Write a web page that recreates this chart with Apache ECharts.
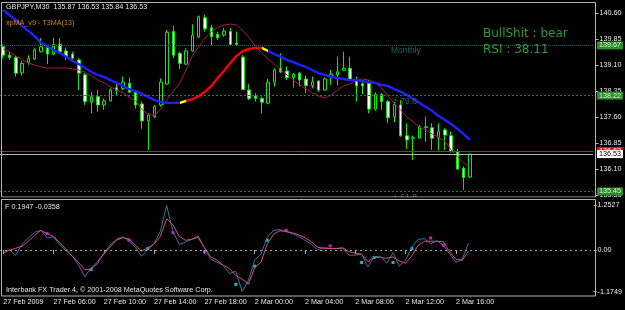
<!DOCTYPE html>
<html><head><meta charset="utf-8">
<script src="https://cdn.jsdelivr.net/npm/echarts@6/dist/echarts.min.js"></script>
<style>html,body{margin:0;padding:0;background:#000;}#c{width:625px;height:310px;}</style>
</head><body><div id="c"></div>
<script>
// ---- data ----
const timeLabels = ['27 Feb 2009','27 Feb 06:00','27 Feb 10:00','27 Feb 14:00','27 Feb 18:00','2 Mar 00:00','2 Mar 04:00','2 Mar 08:00','2 Mar 12:00','2 Mar 16:00'];
const opens  = [139.63,139.39,139.32,138.88,139.18,139.28,139.49,139.61,139.42,139.70,
                139.51,139.42,139.25,138.82,138.03,138.19,137.95,138.07,138.45,138.43,
                138.58,138.32,137.98,137.49,137.61,137.95,138.56,140.07,139.44,139.13,
                139.51,139.92,140.47,140.18,139.99,139.97,140.07,139.74,139.33,138.38,
                138.21,138.14,138.00,138.61,139.01,138.93,138.74,138.87,138.70,138.51,
                138.64,138.38,138.77,138.82,138.95,139.01,138.64,138.56,138.58,137.83,
                138.26,138.05,137.61,137.95,137.06,136.99,136.99,137.30,137.29,137.00,
                137.23,137.06,136.60,136.12,135.87];
const highs  = [139.70,139.49,139.37,139.22,139.39,139.59,139.88,139.68,139.89,139.88,
                139.61,139.49,139.30,138.87,138.33,138.38,138.14,138.43,138.61,138.77,
                138.74,138.38,138.05,137.71,137.95,138.72,140.12,140.24,139.49,139.59,
                140.28,140.53,140.55,140.26,140.07,140.17,140.17,140.07,139.39,138.55,
                138.29,138.19,138.70,139.01,139.44,139.06,138.87,138.91,138.80,138.77,
                138.67,138.74,138.96,139.35,139.49,139.35,138.77,138.61,138.67,138.32,
                138.29,138.09,138.03,138.09,137.42,137.06,137.37,137.61,137.42,137.42,
                137.28,137.18,136.68,136.17,136.53];
const lows   = [139.29,139.25,138.77,138.80,139.11,139.25,139.47,139.13,139.39,139.44,
                139.25,139.22,138.38,137.95,137.71,137.76,137.81,138.05,138.24,138.38,
                138.29,137.85,137.26,136.65,137.57,137.90,138.53,139.30,138.99,139.11,
                139.49,139.88,140.07,139.68,139.83,139.92,139.68,139.66,138.38,138.09,
                138.05,137.71,137.97,138.48,138.87,138.67,138.45,138.48,138.29,138.43,
                138.33,138.36,138.53,138.51,138.95,138.64,138.05,138.26,137.71,137.78,
                137.81,137.42,137.45,137.03,136.68,136.36,136.97,136.89,136.65,136.63,
                136.65,136.58,136.07,135.49,135.84];
const closes = [139.39,139.32,138.87,139.15,139.30,139.54,139.63,139.42,139.70,139.49,
                139.35,139.30,138.87,138.05,138.19,137.95,138.07,138.38,138.36,138.61,
                138.32,137.95,137.49,137.66,137.90,138.61,140.05,139.39,139.15,139.51,
                139.97,140.50,140.15,139.92,139.89,140.09,139.70,139.70,138.40,138.14,
                138.14,138.03,138.61,138.96,138.91,138.74,138.84,138.67,138.51,138.62,
                138.38,138.70,138.84,138.91,139.01,138.67,138.50,138.50,137.83,138.26,
                138.05,137.58,137.97,137.06,136.94,137.00,137.32,137.32,136.99,137.19,
                137.08,136.60,136.10,135.85,136.53];
const t3ma = [140.70,140.55,140.41,140.23,140.09,139.94,139.74,139.65,139.54,139.45,
              139.34,139.22,139.13,139.02,138.90,138.82,138.76,138.67,138.59,138.50,
              138.41,138.35,138.27,138.18,138.09,138.04,138.01,138.01,138.01,138.07,
              138.12,138.21,138.33,138.50,138.73,138.93,139.16,139.37,139.51,139.57,
              139.60,139.60,139.51,139.42,139.34,139.25,139.19,139.11,139.05,138.96,
              138.87,138.82,138.76,138.73,138.70,138.67,138.67,138.64,138.61,138.59,
              138.53,138.50,138.41,138.33,138.24,138.12,138.01,137.89,137.78,137.63,
              137.52,137.40,137.26,137.11,136.94];
const maLine = [139.57,139.48,139.37,139.25,139.16,139.11,139.05,139.02,139.02,139.02,
                139.02,138.99,138.96,138.90,138.79,138.67,138.59,138.47,138.38,138.30,
                138.18,138.07,137.82,137.67,137.65,137.84,138.12,138.35,138.59,138.96,
                139.37,139.63,139.89,140.06,140.20,140.26,140.29,140.26,140.09,139.89,
                139.65,139.45,139.28,139.13,138.96,138.82,138.67,138.53,138.41,138.30,
                138.21,138.15,138.24,138.38,138.50,138.56,138.67,138.70,138.67,138.59,
                138.44,138.21,137.99,137.81,137.60,137.46,137.31,137.23,137.11,137.02,
                136.91,136.65,136.45,136.27,136.16];
const fisherMain = [-0.036,0.006,-0.148,0.160,0.328,0.496,0.552,0.336,0.370,0.146,
                    -0.022,-0.176,-0.429,-0.751,-0.493,-0.401,-0.092,0.132,0.300,0.364,
                    0.258,0.076,-0.176,0.006,0.174,0.524,1.2527,0.524,0.160,0.216,
                    0.300,0.398,0.062,-0.261,-0.345,-0.429,-0.667,-0.597,-1.1749,-0.863,
                    -0.289,-0.120,0.356,0.552,0.571,0.510,0.459,0.384,0.272,0.160,
                    0.006,0.062,0.039,0.039,0.048,-0.148,-0.148,-0.120,-0.476,-0.190,
                    -0.176,-0.373,-0.078,-0.457,-0.289,0.076,0.300,0.314,0.174,0.258,
                    0.132,-0.106,-0.353,-0.261,0.1947];
const fisherSignal = [-0.092,-0.008,0.048,0.104,0.244,0.412,0.552,0.454,0.384,0.202,
                      0.020,-0.176,-0.359,-0.555,-0.541,-0.331,-0.120,0.084,0.272,0.342,
                      0.319,0.132,-0.036,0.062,0.160,0.384,0.874,0.706,0.384,0.272,
                      0.300,0.356,0.062,-0.190,-0.289,-0.429,-0.527,-0.723,-0.821,-0.961,
                      -0.499,-0.345,0.160,0.440,0.538,0.524,0.482,0.426,0.342,0.230,
                      0.076,0.048,0.039,0.039,0.062,-0.050,-0.092,-0.120,-0.331,-0.204,
                      -0.218,-0.232,-0.196,-0.317,-0.373,-0.162,0.132,0.244,0.244,0.244,
                      0.230,-0.056,-0.261,-0.289,-0.0358];
const magentaDots = [[7,0.459],[20,0.272],[27,0.487],[32,-0.056],[45,0.552],[52,0.112],[68,0.336],[70,0.132]];
const cyanDots = [[14,-0.549],[23,0.039],[37,-0.969],[40,-0.457],[42,0.272],[57,-0.353],[59,-0.213],[62,-0.353],[65,0.039]];
const priceTicks = [140.60,139.85,139.10,138.35,137.60,136.85,136.10,135.35];
const subTicks = [1.2527,0,-1.1749];
const monthlyLevel = 139.67, fibHigh = 138.22, fibLow = 135.45, askPrice = 136.62, bidPrice = 136.53;
const slotCount = 94;      // visible bar slots in the window
const labelStep = 8;       // bars between time labels

// ---- build ----
const slots = Array.from({length: slotCount}, (_, i) => 'b' + i);
const candles = opens.map((o, i) => [o, closes[i], lows[i], highs[i]]);
const labelAt = (i) => i % labelStep === 0 && (i / labelStep) < timeLabels.length;
const FF = '"Liberation Sans", Arial, sans-serif';
const FS = 7.2;
const txt = (x, y, text, fill, font, extra) => Object.assign({type: 'text', x: x, y: y, z: 100,
  style: {text: text, fill: fill, font: font, align: 'left', verticalAlign: 'middle'}}, extra || {});
const boxLabel = (text, bg, fg) => ({show: true, position: 'end', formatter: text, distance: 4,
  color: fg, backgroundColor: bg, padding: [1, 2, 0, 2], fontSize: FS, fontFamily: FF});

const chart = echarts.init(document.getElementById('c'));
chart.setOption({
  backgroundColor: '#000000',
  animation: false,
  grid: [{left: 0, top: 3, width: 593, height: 194}, {left: 0, top: 199.5, width: 593, height: 96.5}],
  xAxis: [
    {type: 'category', gridIndex: 0, data: slots, boundaryGap: true, show: false},
    {type: 'category', gridIndex: 1, data: slots, boundaryGap: true,
     axisLine: {show: false},
     axisTick: {show: true, alignWithLabel: true, interval: labelAt, length: 4, lineStyle: {color: '#b4b4b4'}},
     axisLabel: {interval: labelAt, formatter: (v, i) => timeLabels[i / labelStep] || '', color: '#e6e6e6',
                 fontSize: FS, fontFamily: FF, align: 'left', margin: 3},
     splitLine: {show: false}}
  ],
  yAxis: [
    {type: 'value', gridIndex: 0, position: 'right', offset: 2.5, min: 135.29, max: 140.897,
     splitLine: {show: false}, axisLine: {show: false},
     axisTick: {show: true, length: 3, customValues: priceTicks, lineStyle: {color: '#b4b4b4'}},
     axisLabel: {customValues: priceTicks, formatter: v => v.toFixed(2), color: '#e6e6e6', fontSize: FS, fontFamily: FF, margin: 4}},
    {type: 'value', gridIndex: 1, position: 'right', offset: 2.5, min: -1.297, max: 1.420,
     splitLine: {show: false}, axisLine: {show: false},
     axisTick: {show: true, length: 3, customValues: subTicks, lineStyle: {color: '#b4b4b4'}},
     axisLabel: {customValues: subTicks, formatter: v => v === 0 ? '0.00' : v.toFixed(4), color: '#e6e6e6', fontSize: FS, fontFamily: FF, margin: 4}}
  ],
  visualMap: [{type: 'piecewise', show: false, dimension: 0, seriesIndex: 2,
    pieces: [{lt: 27.8, color: '#2020ff'}, {gte: 27.8, lt: 29, color: '#ffff00'}, {gte: 29, lt: 41, color: '#ff0000'},
             {gte: 41, lt: 42, color: '#ffff00'}, {gte: 42, color: '#2020ff'}]}],
  series: [
    {type: 'candlestick', xAxisIndex: 0, yAxisIndex: 0, data: candles, barWidth: 3,
     itemStyle: {color: '#000000', color0: '#ffffff', borderColor: '#00f000', borderColor0: '#00f000', borderWidth: 1},
     markLine: {silent: true, symbol: 'none', animation: false, data: [
       {yAxis: monthlyLevel, lineStyle: {color: '#2c5c60', type: [1, 1], width: 1}, label: boxLabel('139.67', '#2e8b2e', '#d8f5c8')},
       {yAxis: fibHigh, lineStyle: {color: '#2f7d1c', type: [2, 2], width: 1}, label: boxLabel('138.22', '#2e8b2e', '#d8f5c8')},
       {yAxis: fibLow, lineStyle: {color: '#2f7d1c', type: [2, 2], width: 1}, label: boxLabel('135.45', '#2e8b2e', '#d8f5c8')},
       {yAxis: askPrice, lineStyle: {color: '#e01010', type: 'solid', width: 1}, label: boxLabel('136.62', '#ff0000', '#ffffff')},
       {yAxis: bidPrice, lineStyle: {color: '#b8b8b8', type: 'solid', width: 1}, label: boxLabel('136.53', '#ffffff', '#000000')}
     ]}},
    {type: 'line', xAxisIndex: 0, yAxisIndex: 0, data: maLine, showSymbol: false, lineStyle: {color: '#a01c44', width: 1}},
    {type: 'line', xAxisIndex: 0, yAxisIndex: 0, data: t3ma, showSymbol: false, lineStyle: {width: 2.4}},
    {type: 'line', xAxisIndex: 1, yAxisIndex: 1, data: fisherMain, showSymbol: false, lineStyle: {color: '#3f73a0', width: 1},
     markLine: {silent: true, symbol: 'none', animation: false, label: {show: false},
       data: [{yAxis: 0, lineStyle: {color: '#a0a0a0', type: [2, 3], width: 1}}]}},
    {type: 'line', xAxisIndex: 1, yAxisIndex: 1, data: fisherSignal, showSymbol: false, lineStyle: {color: '#dc4a80', width: 1}},
    {type: 'scatter', xAxisIndex: 1, yAxisIndex: 1, data: magentaDots, symbol: 'rect', symbolSize: 3, itemStyle: {color: '#ff20ff'}},
    {type: 'scatter', xAxisIndex: 1, yAxisIndex: 1, data: cyanDots, symbol: 'rect', symbolSize: 3, itemStyle: {color: '#20e8e8'}}
  ],
  graphic: [
    txt(6, 7.5, 'GBPJPY,M30  135.87 136.53 135.84 136.53', '#e6e6e6', FS + 'px ' + FF),
    txt(6, 23.5, 'xpMA_v9 - T3MA(13)', '#d48a10', FS + 'px ' + FF),
    txt(483, 34, 'BullShit : bear', '#2e9a30', '12px "DejaVu Sans", sans-serif'),
    txt(483, 49.5, 'RSI : 38.11', '#2e9a30', '12px "DejaVu Sans", sans-serif'),
    txt(391, 51, 'Monthly', '#2e6266', '8.5px ' + FF),
    txt(393, 102, '+ 79.8', '#2e6266', '8.5px ' + FF),
    txt(393, 197.5, '+ 61.8', '#2e6e50', '8.5px ' + FF),
    {type: 'rect', z: 100, shape: {x: 1.5, y: 2.5, width: 594, height: 194.5}, style: {fill: null, stroke: '#b4b4b4', lineWidth: 1}},
    {type: 'rect', z: 100, shape: {x: 0, y: 197.5, width: 596, height: 2}, style: {fill: '#000000'}},
    {type: 'rect', z: 100, shape: {x: 1.5, y: 199.5, width: 594, height: 96.5}, style: {fill: null, stroke: '#b4b4b4', lineWidth: 1}},
    txt(5, 207.5, 'F 0.1947 -0.0358', '#e6e6e6', FS + 'px ' + FF),
    txt(6, 290, 'Interbank FX Trader 4, \u00a9 2001-2008 MetaQuotes Software Corp.', '#e6e6e6', FS + 'px ' + FF)
  ]
});
</script></body></html>
